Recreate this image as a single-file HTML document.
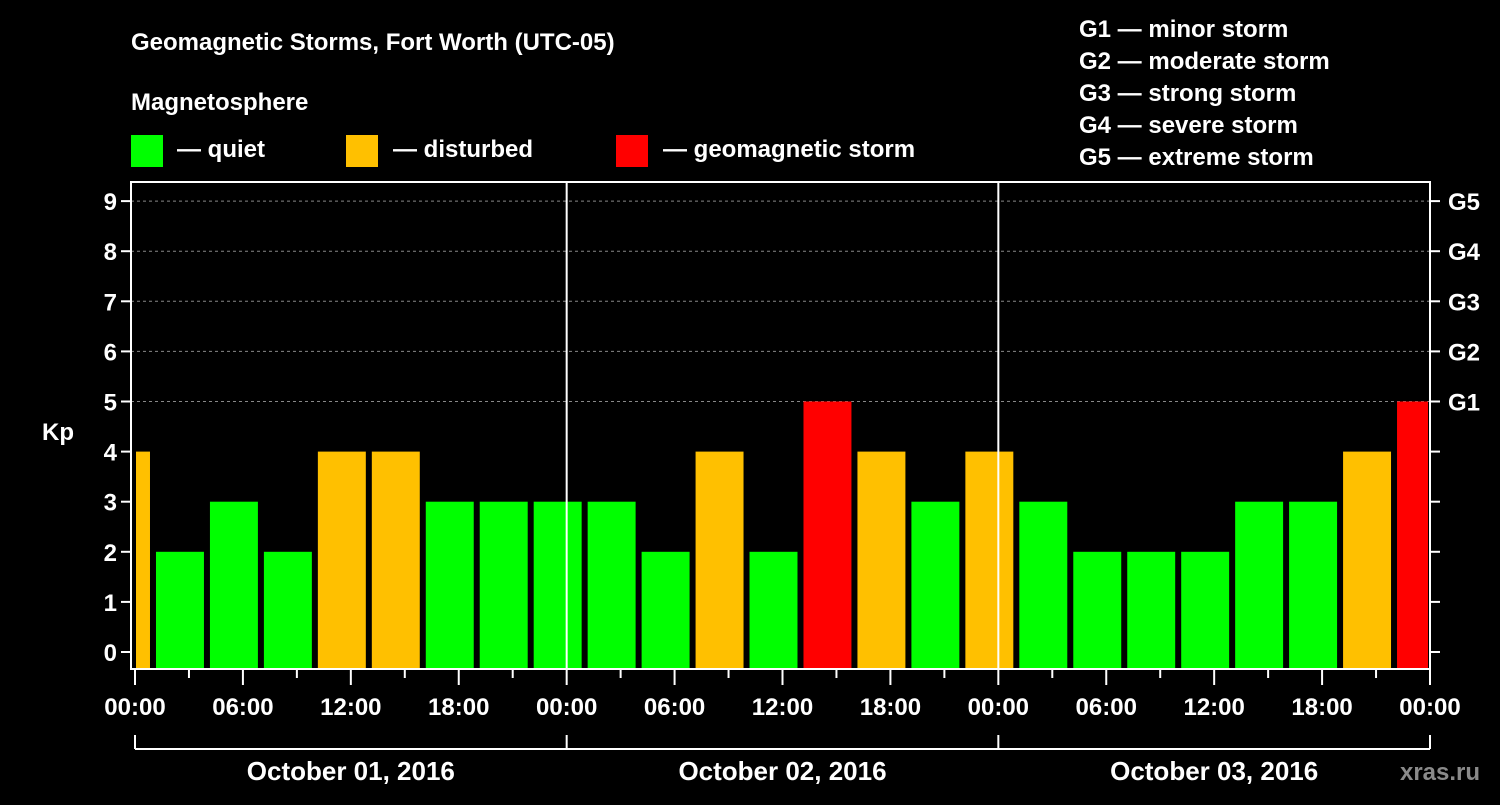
<!DOCTYPE html>
<html><head><meta charset="utf-8"><style>
html,body{margin:0;padding:0;background:#000;}
svg text{font-family:"Liberation Sans",Arial,sans-serif;font-weight:bold;fill:#fff;}
</style></head><body>
<svg id="chart" width="1500" height="800" xmlns="http://www.w3.org/2000/svg">
<rect width="1500" height="800" fill="#000"/>
<text x="131" y="50" font-size="24">Geomagnetic Storms, Fort Worth (UTC-05)</text>
<text x="131" y="110" font-size="24">Magnetosphere</text>
<g><rect x="131" y="135" width="32" height="32" fill="#00ff00"/><text x="177" y="157" font-size="24">— quiet</text></g>
<g><rect x="346" y="135" width="32" height="32" fill="#ffc000"/><text x="393" y="157" font-size="24">— disturbed</text></g>
<g><rect x="616" y="135" width="32" height="32" fill="#ff0000"/><text x="663" y="157" font-size="24">— geomagnetic storm</text></g>
<g font-size="24">
<text x="1079" y="37">G1 — minor storm</text>
<text x="1079" y="69">G2 — moderate storm</text>
<text x="1079" y="101">G3 — strong storm</text>
<text x="1079" y="133">G4 — severe storm</text>
<text x="1079" y="165">G5 — extreme storm</text>
</g>
<text x="42" y="440" font-size="24">Kp</text>
<text x="1440" y="780" font-size="24" text-anchor="middle" fill="#888" style="fill:#8a8a8a">xras.ru</text>
<g id="grid"></g><g id="bars"></g><g id="axes"></g>
</svg>
<script>
const kpValues=[4,2,3,2,4,4,3,3,3,3,2,4,2,5,4,3,4,3,2,2,2,3,3,4,5];
const startHour=-2;
const yTicks=[0,1,2,3,4,5,6,7,8,9];
const gLabels=["G1","G2","G3","G4","G5"];
const xTickLabels=["00:00","06:00","12:00","18:00","00:00","06:00","12:00","18:00","00:00","06:00","12:00","18:00","00:00"];
const dayLabels=["October 01, 2016","October 02, 2016","October 03, 2016"];
const X0=135,X1=1430,TOP=182,BOT=669,LEFT=131;
const hourW=(X1-X0)/72;
const x=h=>X0+h*hourW;
const y=v=>652-v*50.1;
const NS="http://www.w3.org/2000/svg";
function mk(t,a,p){const e=document.createElementNS(NS,t);for(const k in a)e.setAttribute(k,a[k]);p.appendChild(e);return e;}
const grid=document.getElementById('grid'),bars=document.getElementById('bars'),axes=document.getElementById('axes');
yTicks.forEach(v=>{if(v>=5){const l=mk('line',{x1:LEFT,x2:X1,y1:y(v),y2:y(v),stroke:'#888','stroke-dasharray':'3,3','stroke-width':1},grid);

}});
kpValues.forEach((v,i)=>{let h0=startHour+i*3;let a=Math.max(x(h0)+3,X0+1),b=Math.min(x(h0+3)-3,X1-2);
const c=v>=5?'#ff0000':(v>=4?'#ffc000':'#00ff00');
const r=mk('rect',{x:a,y:y(v),width:b-a,height:668-y(v),fill:c},bars);

});
[1,2].forEach(d=>{const l=mk('line',{x1:x(d*24),x2:x(d*24),y1:TOP,y2:BOT,stroke:'#fff','stroke-width':2},axes);

});
const fr=mk('rect',{x:LEFT,y:TOP,width:X1-LEFT,height:BOT-TOP,fill:'none',stroke:'#fff','stroke-width':2},axes);


yTicks.forEach(v=>{mk('line',{x1:LEFT-10,x2:LEFT,y1:y(v),y2:y(v),stroke:'#fff','stroke-width':2},axes);
mk('line',{x1:X1,x2:X1+10,y1:y(v),y2:y(v),stroke:'#fff','stroke-width':2},axes);
const t=mk('text',{x:LEFT-14,y:y(v)+9,'font-size':24,'text-anchor':'end'},axes);t.textContent=v;

});
gLabels.forEach((g,i)=>{const t=mk('text',{x:1448,y:y(5+i)+9,'font-size':24},axes);t.textContent=g;

});
for(let h=0;h<=72;h+=3){const major=h%6==0;mk('line',{x1:x(h),x2:x(h),y1:BOT,y2:BOT+(major?16:9),stroke:'#fff','stroke-width':2},axes);}
xTickLabels.forEach((s,i)=>{const t=mk('text',{x:x(i*6),y:715,'font-size':24,'text-anchor':'middle'},axes);t.textContent=s;

});
mk('line',{x1:x(0),x2:x(72),y1:749,y2:749,stroke:'#fff','stroke-width':2},axes);
for(let d=0;d<=3;d++)mk('line',{x1:x(d*24),x2:x(d*24),y1:735,y2:749,stroke:'#fff','stroke-width':2},axes);
dayLabels.forEach((s,i)=>{const t=mk('text',{x:x(i*24+12),y:780,'font-size':26,'text-anchor':'middle'},axes);t.textContent=s;

});
</script>
</body></html>
